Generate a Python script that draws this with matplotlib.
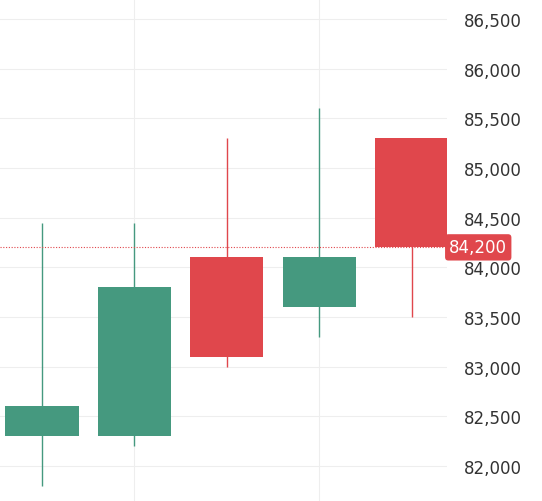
import matplotlib.pyplot as plt
from matplotlib.patches import Rectangle

opens = [82300, 82300, 84100, 83600, 85300]
closes = [82600, 83800, 83100, 84100, 84200]
highs = [84450, 84450, 85300, 85600, 85300]
lows = [81800, 82200, 83000, 83300, 83500]
last_price = 84200
yticks = list(range(82000, 87000, 500))

up = '#45997f'
down = '#e0474c'

fig = plt.figure(figsize=(5.42, 5.02), dpi=100)
ax = fig.add_axes([0, 0, 447 / 542, 1])
for i, (o, c, h, l) in enumerate(zip(opens, closes, highs, lows)):
    col = up if c >= o else down
    ax.vlines(i, l, h, color=col, lw=1)
    ax.add_patch(Rectangle((i - 0.395, min(o, c)), 0.79, abs(c - o), color=col, lw=0))

ax.axhline(last_price, color=down, lw=0.8, ls=(0, (1, 1.5)))
ax.set_xlim(-0.454, 4.38)
ax.set_ylim(81647, 86700)
ax.set_yticks(yticks)
ax.set_xticks([1, 3])
ax.tick_params(axis='x', length=0, labelbottom=False)
ax.tick_params(axis='y', length=0, labelleft=False, labelright=True, pad=12,
               labelsize=12, labelcolor='#333333')
ax.set_yticklabels([f'{v:,}' for v in yticks])
ax.grid(True, color='#eeeeee', lw=0.8)
for s in ax.spines.values():
    s.set_visible(False)
ax.set_axisbelow(True)

ax.text(1.005, last_price, f'{last_price:,}', transform=ax.get_yaxis_transform(),
        ha='left', va='center', fontsize=12, color='white',
        bbox=dict(boxstyle='round,pad=0.25,rounding_size=0.2', fc=down, ec='none'))

fig.savefig('out.png', dpi=100)
